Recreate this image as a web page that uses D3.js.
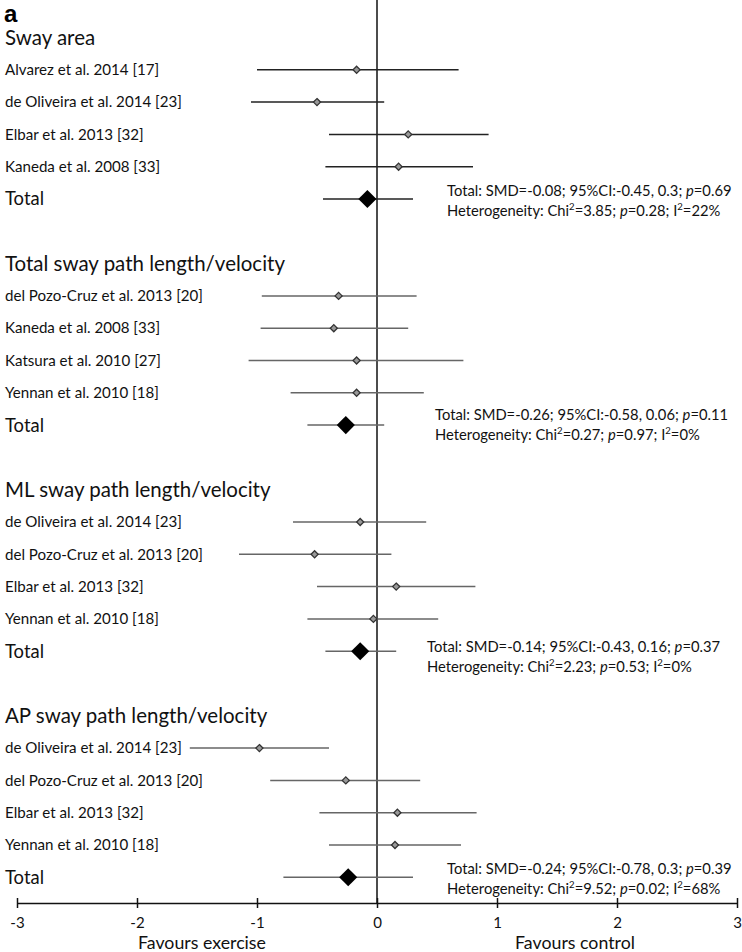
<!DOCTYPE html>
<html>
<head>
<meta charset="utf-8">
<script src="https://cdnjs.cloudflare.com/ajax/libs/d3/7.8.5/d3.min.js"></script>
<style>
  html, body { margin: 0; padding: 0; background: #fff; }
  svg { display: block; }
</style>
</head>
<body>
<svg id="chart" width="742" height="952"></svg>
<script>
// ---------------- DATA ----------------
const groupTitles = [
  "Sway area",
  "Total sway path length/velocity",
  "ML sway path length/velocity",
  "AP sway path length/velocity"
];
const studyGroup = [0,0,0,0, 1,1,1,1, 2,2,2,2, 3,3,3,3];
const studyLabels = [
  "Alvarez et al. 2014 [17]", "de Oliveira et al. 2014 [23]", "Elbar et al. 2013 [32]", "Kaneda et al. 2008 [33]",
  "del Pozo-Cruz et al. 2013 [20]", "Kaneda et al. 2008 [33]", "Katsura et al. 2010 [27]", "Yennan et al. 2010 [18]",
  "de Oliveira et al. 2014 [23]", "del Pozo-Cruz et al. 2013 [20]", "Elbar et al. 2013 [32]", "Yennan et al. 2010 [18]",
  "de Oliveira et al. 2014 [23]", "del Pozo-Cruz et al. 2013 [20]", "Elbar et al. 2013 [32]", "Yennan et al. 2010 [18]"
];
const studySMD  = [-0.17, -0.50, 0.26, 0.18,  -0.32, -0.36, -0.17, -0.17,  -0.14, -0.52, 0.16, -0.03,  -0.98, -0.26, 0.17, 0.15];
const studyLow  = [-1.00, -1.05, -0.40, -0.43, -0.96, -0.97, -1.07, -0.72, -0.70, -1.15, -0.50, -0.58, -1.56, -0.89, -0.48, -0.40];
const studyHigh = [0.68, 0.06, 0.93, 0.80,  0.33, 0.26, 0.72, 0.39,  0.41, 0.12, 0.82, 0.51,  -0.40, 0.36, 0.83, 0.70];

const totalSMD  = [-0.08, -0.26, -0.14, -0.24];
const totalLow  = [-0.45, -0.58, -0.43, -0.78];
const totalHigh = [0.3, 0.06, 0.16, 0.3];
const totalP    = ["0.69", "0.11", "0.37", "0.39"];
const chi2      = ["3.85", "0.27", "2.23", "9.52"];
const hetP      = ["0.28", "0.97", "0.53", "0.02"];
const i2        = ["22%", "0%", "0%", "68%"];

const tickValues = [-3, -2, -1, 0, 1, 2, 3];
const leftAxisLabel = "Favours exercise";
const rightAxisLabel = "Favours control";
const panelLetter = "a";

// ---------------- LAYOUT ----------------
const svg = d3.select("#chart");
const FONT = "Lato, 'Open Sans', sans-serif";
const x = d3.scaleLinear().domain([-3, 3]).range([17, 737]);
// slot scale: each group uses 7 slots (header, 4 studies, total, gap)
const y = d3.scaleLinear().domain([0, 1]).range([37.5, 69.8]);
const slotsPerGroup = 7;
const axisY = 903;
const annX = [447, 435, 427, 447];
const annDy = [-8, -10, -4, -8];

function fitFont(sel, sample, target, base) {
  const t = svg.append("text").attr("font-family", FONT).attr("font-size", base).text(sample);
  const w = t.node().getComputedTextLength();
  t.remove();
  return base * target / w;
}
const headerSize = fitFont(svg, "Total sway path length/velocity", 280, 20);
const labelSize  = fitFont(svg, "del Pozo-Cruz et al. 2013 [20]", 198, 15);
const annSize    = fitFont(svg, "Total: SMD=-0.08; 95%CI:-0.45, 0.3; p=0.69", 285, 14);
const favSize    = fitFont(svg, "Favours exercise", 128, 15);

// panel letter
svg.append("text")
  .attr("x", 4).attr("y", 22)
  .attr("font-family", "'Liberation Sans', Arial, sans-serif")
  .attr("font-weight", "bold").attr("font-size", 24)
  .text(panelLetter);

// zero line
svg.append("line")
  .attr("x1", x(0)).attr("x2", x(0))
  .attr("y1", 0).attr("y2", axisY)
  .attr("stroke", "#111").attr("stroke-width", 1.5);

// group headers
svg.selectAll("text.header").data(groupTitles).join("text")
  .attr("class", "header")
  .attr("x", 5)
  .attr("y", (d, i) => y(i * slotsPerGroup))
  .attr("dy", "0.35em")
  .attr("font-family", FONT).attr("font-size", headerSize)
  .attr("fill", "#111")
  .text(d => d);

// studies
const studies = studyLabels.map((label, i) => ({
  label, g: studyGroup[i], smd: studySMD[i], lo: studyLow[i], hi: studyHigh[i],
  slot: studyGroup[i] * slotsPerGroup + 1 + studyGroup.slice(0, i).filter(g => g === studyGroup[i]).length
}));

svg.selectAll("text.study").data(studies).join("text")
  .attr("class", "study")
  .attr("x", 5)
  .attr("y", d => y(d.slot))
  .attr("dy", "0.35em")
  .attr("font-family", FONT).attr("font-size", labelSize)
  .attr("fill", "#111")
  .text(d => d.label);

const lineColor = g => g === 0 ? "#222" : "#666";

svg.selectAll("line.ci").data(studies).join("line")
  .attr("class", "ci")
  .attr("x1", d => x(d.lo)).attr("x2", d => x(d.hi))
  .attr("y1", d => y(d.slot)).attr("y2", d => y(d.slot))
  .attr("stroke", d => lineColor(d.g)).attr("stroke-width", 1.5);

const smallDiamond = d3.symbol().type(d3.symbolDiamond2).size(32);
svg.selectAll("path.pt").data(studies).join("path")
  .attr("class", "pt")
  .attr("transform", d => `translate(${x(d.smd)},${y(d.slot)})`)
  .attr("d", smallDiamond)
  .attr("fill", "#999").attr("stroke", "#333").attr("stroke-width", 1.3);

// totals
const totals = totalSMD.map((v, g) => ({
  g, smd: v, lo: totalLow[g], hi: totalHigh[g], slot: g * slotsPerGroup + 5,
  p: totalP[g], chi: chi2[g], hp: hetP[g], i2: i2[g]
}));

svg.selectAll("text.totlab").data(totals).join("text")
  .attr("class", "totlab")
  .attr("x", 5).attr("y", d => y(d.slot)).attr("dy", "0.35em")
  .attr("font-family", FONT).attr("font-size", headerSize * 0.9)
  .attr("fill", "#111")
  .text("Total");

svg.selectAll("line.totci").data(totals).join("line")
  .attr("class", "totci")
  .attr("x1", d => x(d.lo)).attr("x2", d => x(d.hi))
  .attr("y1", d => y(d.slot)).attr("y2", d => y(d.slot))
  .attr("stroke", d => lineColor(d.g)).attr("stroke-width", 1.5);

const bigDiamond = d3.symbol().type(d3.symbolDiamond2).size(210);
svg.selectAll("path.tot").data(totals).join("path")
  .attr("class", "tot")
  .attr("transform", d => `translate(${x(d.smd)},${y(d.slot)})`)
  .attr("d", bigDiamond)
  .attr("fill", "#000");

// annotations
totals.forEach(d => {
  const ty = y(d.slot) + annDy[d.g];
  const t1 = svg.append("text")
    .attr("x", annX[d.g]).attr("y", ty).attr("dy", "0.35em")
    .attr("font-family", FONT).attr("font-size", annSize).attr("fill", "#111");
  t1.append("tspan").text(`Total: SMD=${d.smd}; 95%CI:${d.lo}, ${d.hi}; `);
  t1.append("tspan").attr("font-style", "italic").text("p");
  t1.append("tspan").text(`=${d.p}`);

  const t2 = svg.append("text")
    .attr("x", annX[d.g]).attr("y", ty + annSize * 1.35).attr("dy", "0.35em")
    .attr("font-family", FONT).attr("font-size", annSize).attr("fill", "#111");
  t2.append("tspan").text("Heterogeneity: Chi");
  t2.append("tspan").attr("font-size", annSize * 0.65).attr("dy", -annSize * 0.4).text("2");
  t2.append("tspan").attr("dy", annSize * 0.4).text(`=${d.chi}; `);
  t2.append("tspan").attr("font-style", "italic").text("p");
  t2.append("tspan").text(`=${d.hp}; I`);
  t2.append("tspan").attr("font-size", annSize * 0.65).attr("dy", -annSize * 0.4).text("2");
  t2.append("tspan").attr("dy", annSize * 0.4).text(`=${d.i2}`);
});

// axis
const axis = d3.axisBottom(x).tickValues(tickValues).tickFormat(d => String(d))
  .tickSizeInner(5).tickSizeOuter(0).tickPadding(9);
const ag = svg.append("g").attr("transform", `translate(0,${axisY})`).call(axis);
ag.select(".domain").attr("stroke", "#111").attr("stroke-width", 1.5);
ag.selectAll(".tick line").attr("y1", -5).attr("y2", 5).attr("stroke", "#111").attr("stroke-width", 1.5);
ag.selectAll(".tick text").attr("font-family", FONT).attr("font-size", annSize * 1.02).attr("fill", "#111");

svg.append("text")
  .attr("x", 202).attr("y", axisY + 40)
  .attr("text-anchor", "middle").attr("dy", "0.35em")
  .attr("font-family", FONT).attr("font-size", favSize).attr("fill", "#111")
  .text(leftAxisLabel);
svg.append("text")
  .attr("x", 575).attr("y", axisY + 40)
  .attr("text-anchor", "middle").attr("dy", "0.35em")
  .attr("font-family", FONT).attr("font-size", favSize).attr("fill", "#111")
  .text(rightAxisLabel);
</script>
</body>
</html>
